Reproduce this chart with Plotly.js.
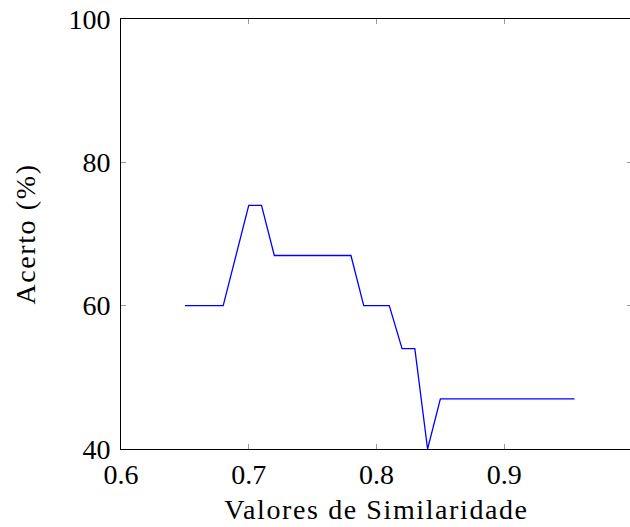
<!DOCTYPE html>
<html>
<head>
<meta charset="utf-8">
<script src="https://cdn.plot.ly/plotly-3.0.1.min.js"></script>
<style>
html,body{margin:0;padding:0;overflow:hidden;background:#fff;width:630px;height:527px;}
#chart{width:640px;height:527px;}
.xtitle,.ytitle{letter-spacing:1.6px;}
</style>
</head>
<body>
<div id="chart"></div>
<script>
// Similarity threshold values (x) and accuracy in % (y)
const similarity = [0.65, 0.68, 0.70, 0.71, 0.72, 0.78, 0.79, 0.81, 0.82, 0.83, 0.84, 0.85, 0.955];
const accuracy   = [60,   60,   74,   74,   67,   67,   60,   60,   54,   54,   40,   47,   47];
const xTicks = [0.6, 0.7, 0.8, 0.9];
const xTickText = ["0.6", "0.7", "0.8", "0.9"];
const yTicks = [40, 60, 80, 100];
const yTickText = ["40", "60", "80", "100"];

const font = {family: "Liberation Serif, DejaVu Serif, serif", size: 28, color: "#000"};

const trace = {
  x: similarity, y: accuracy, type: "scatter", mode: "lines",
  line: {color: "#0000ff", width: 1.3}, hoverinfo: "skip"
};

const axisCommon = {
  showline: true, linecolor: "#000", linewidth: 1, mirror: "ticks",
  ticks: "inside", ticklen: 5, tickcolor: "#999", tickwidth: 1,
  showgrid: false, zeroline: false, tickfont: font
};

const layout = {
  width: 640, height: 527,
  margin: {l: 121, r: 8, t: 19, b: 78},
  paper_bgcolor: "#fff", plot_bgcolor: "#fff",
  showlegend: false,
  font: font,
  xaxis: Object.assign({}, axisCommon, {
    range: [0.6, 1.0], tickvals: xTicks, ticktext: xTickText,
    ticklabelstandoff: 0,
    title: {text: "Valores de Similaridade", font: font, standoff: 10}
  }),
  yaxis: Object.assign({}, axisCommon, {
    range: [40, 100], tickvals: yTicks, ticktext: yTickText,
    ticklabelstandoff: 4,
    title: {text: "Acerto (%)", font: font, standoff: 24}
  })
};

Plotly.newPlot("chart", [trace], layout, {displayModeBar: false, staticPlot: true});
</script>
</body>
</html>
